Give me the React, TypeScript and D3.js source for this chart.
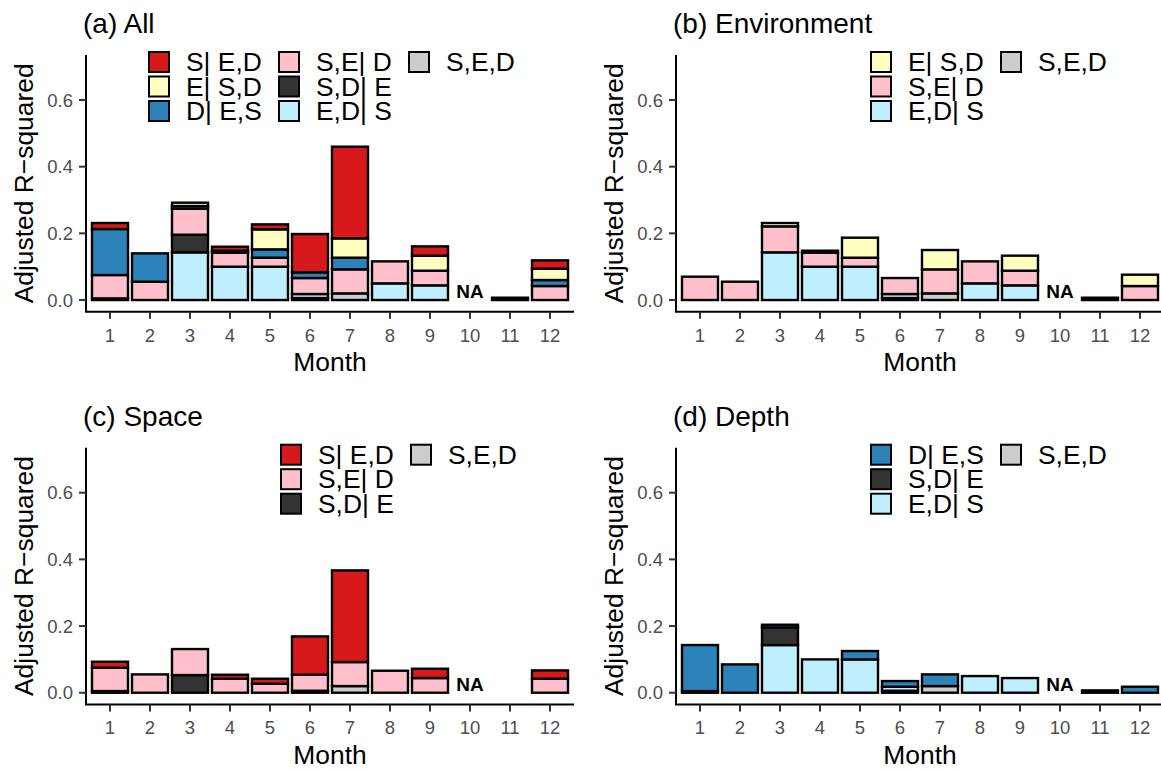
import React from 'react';
import * as d3 from 'd3';

// ---- Data (adjusted R-squared components by month) ----
const months = ['1', '2', '3', '4', '5', '6', '7', '8', '9', '10', '11', '12'];
const naMonth = '10';
const yTicks = [0, 0.2, 0.4, 0.6];

// S| E,D
const sOnly = [0.018, 0, 0, 0.012, 0.015, 0.115, 0.275, 0, 0.028, null, 0, 0.025];
// E| S,D
const eOnly = [0, 0, 0.010, 0.006, 0.060, 0, 0.058, 0, 0.045, null, 0, 0.034];
// D| E,S
const dOnly = [0.138, 0.085, 0.008, 0, 0.025, 0.017, 0.035, 0, 0, null, 0, 0.018];
// S,E| D
const seShared = [0.070, 0.055, 0.078, 0.042, 0.027, 0.048, 0.072, 0.066, 0.044, null, 0, 0.042];
// S,D| E
const sdShared = [0.005, 0, 0.053, 0, 0, 0, 0, 0, 0, null, 0, 0];
// E,D| S
const edShared = [0, 0, 0.143, 0.100, 0.100, 0.012, 0, 0.050, 0.044, null, 0.007, 0];
// S,E,D
const sedShared = [0, 0, 0, 0, 0, 0.006, 0.020, 0, 0, null, 0, 0];

type Series = { label: string; color: string; values: (number | null)[] };
const SERIES: Record<string, Series> = {
  sED: { label: 'S| E,D', color: '#D7191C', values: sOnly },
  eSD: { label: 'E| S,D', color: '#FFFFBF', values: eOnly },
  dES: { label: 'D| E,S', color: '#2B83BA', values: dOnly },
  seD: { label: 'S,E| D', color: '#FFC0CB', values: seShared },
  sdE: { label: 'S,D| E', color: '#333333', values: sdShared },
  edS: { label: 'E,D| S', color: '#BFEFFF', values: edShared },
  sed: { label: 'S,E,D', color: '#CCCCCC', values: sedShared },
};
const legendOrder = ['sED', 'eSD', 'dES', 'seD', 'sdE', 'edS', 'sed'];

const panels = [
  { title: '(a) All', keys: legendOrder, ox: 0, oy: 0 },
  { title: '(b) Environment', keys: ['eSD', 'seD', 'edS', 'sed'], ox: 590, oy: 0 },
  { title: '(c) Space', keys: ['sED', 'seD', 'sdE', 'sed'], ox: 0, oy: 392.7 },
  { title: '(d) Depth', keys: ['dES', 'sdE', 'edS', 'sed'], ox: 590, oy: 392.7 },
];

const FONT = "'Liberation Sans', Arial, Helvetica, sans-serif";
const L = 86, R = 574, T = 55, B = 311.7;

function Panel({ title, keys, ox, oy }: { title: string; keys: string[]; ox: number; oy: number }) {
  const x = d3.scaleBand<string>().domain(months).range([L, R]).paddingInner(0.1).paddingOuter(0.15);
  const y = d3.scaleLinear().domain([-0.035, 0.735]).range([B, T]);
  const bw = x.bandwidth();
  const stackOrder = [...legendOrder].reverse().filter((k) => keys.includes(k));

  const rects: JSX.Element[] = [];
  months.forEach((m, i) => {
    let cum = 0;
    stackOrder.forEach((k) => {
      const v = SERIES[k].values[i];
      if (v == null || v <= 0) return;
      const y0 = cum;
      const y1 = cum + v;
      cum = y1;
      rects.push(
        <rect
          key={`${m}-${k}`}
          x={x(m)!}
          y={y(y1)}
          width={bw}
          height={y(y0) - y(y1)}
          fill={SERIES[k].color}
          stroke="#000"
          strokeWidth={2.4}
        />
      );
    });
  });

  const nCols = Math.ceil(keys.length / 3);
  const legendStart = nCols === 3 ? L + 63 : L + 195;

  return (
    <g transform={`translate(${ox},${oy})`}>
      <text x={L - 3} y={33} fontSize={28} fontFamily={FONT} fill="#000">{title}</text>
      {rects}
      <text
        x={x(naMonth)! + bw / 2}
        y={y(0.026)}
        fontSize={19}
        fontWeight="bold"
        fontFamily={FONT}
        textAnchor="middle"
        dominantBaseline="central"
      >NA</text>
      {/* axes */}
      <line x1={L} x2={L} y1={T} y2={B} stroke="#000" strokeWidth={2} />
      <line x1={L - 1} x2={R} y1={B} y2={B} stroke="#000" strokeWidth={2} />
      {yTicks.map((t) => (
        <g key={t}>
          <line x1={L - 7} x2={L} y1={y(t)} y2={y(t)} stroke="#333" strokeWidth={2} />
          <text x={L - 13} y={y(t)} fontSize={18.5} fill="#4D4D4D" fontFamily={FONT} textAnchor="end" dominantBaseline="central">
            {d3.format('.1f')(t)}
          </text>
        </g>
      ))}
      {months.map((m) => (
        <g key={m}>
          <line x1={x(m)! + bw / 2} x2={x(m)! + bw / 2} y1={B} y2={B + 7} stroke="#333" strokeWidth={2} />
          <text x={x(m)! + bw / 2} y={341.5} fontSize={18.5} fill="#4D4D4D" fontFamily={FONT} textAnchor="middle">{m}</text>
        </g>
      ))}
      <text x={(L + R) / 2} y={371} fontSize={26.4} fontFamily={FONT} textAnchor="middle">Month</text>
      <text
        transform={`translate(33,${(T + B) / 2}) rotate(-90)`}
        fontSize={26.4}
        fontFamily={FONT}
        textAnchor="middle"
      >Adjusted R−squared</text>
      {/* legend */}
      {keys.map((k, i) => {
        const col = Math.floor(i / 3);
        const row = i % 3;
        const kx = legendStart + col * 130;
        const cy = 62 + row * 24.5;
        return (
          <g key={k}>
            <rect x={kx} y={cy - 10} width={20} height={20} fill={SERIES[k].color} stroke="#000" strokeWidth={2} />
            <text x={kx + 37} y={cy + 9.3} fontSize={26.4} fontFamily={FONT}>{SERIES[k].label}</text>
          </g>
        );
      })}
    </g>
  );
}

export default function App() {
  return (
    <div style={{ position: 'absolute', left: 0, top: 0 }}>
      <svg width={1161} height={769} style={{ display: 'block', background: '#fff' }}>
        <rect width={1161} height={769} fill="#fff" />
        {panels.map((p) => (
          <Panel key={p.title} {...p} />
        ))}
      </svg>
    </div>
  );
}
